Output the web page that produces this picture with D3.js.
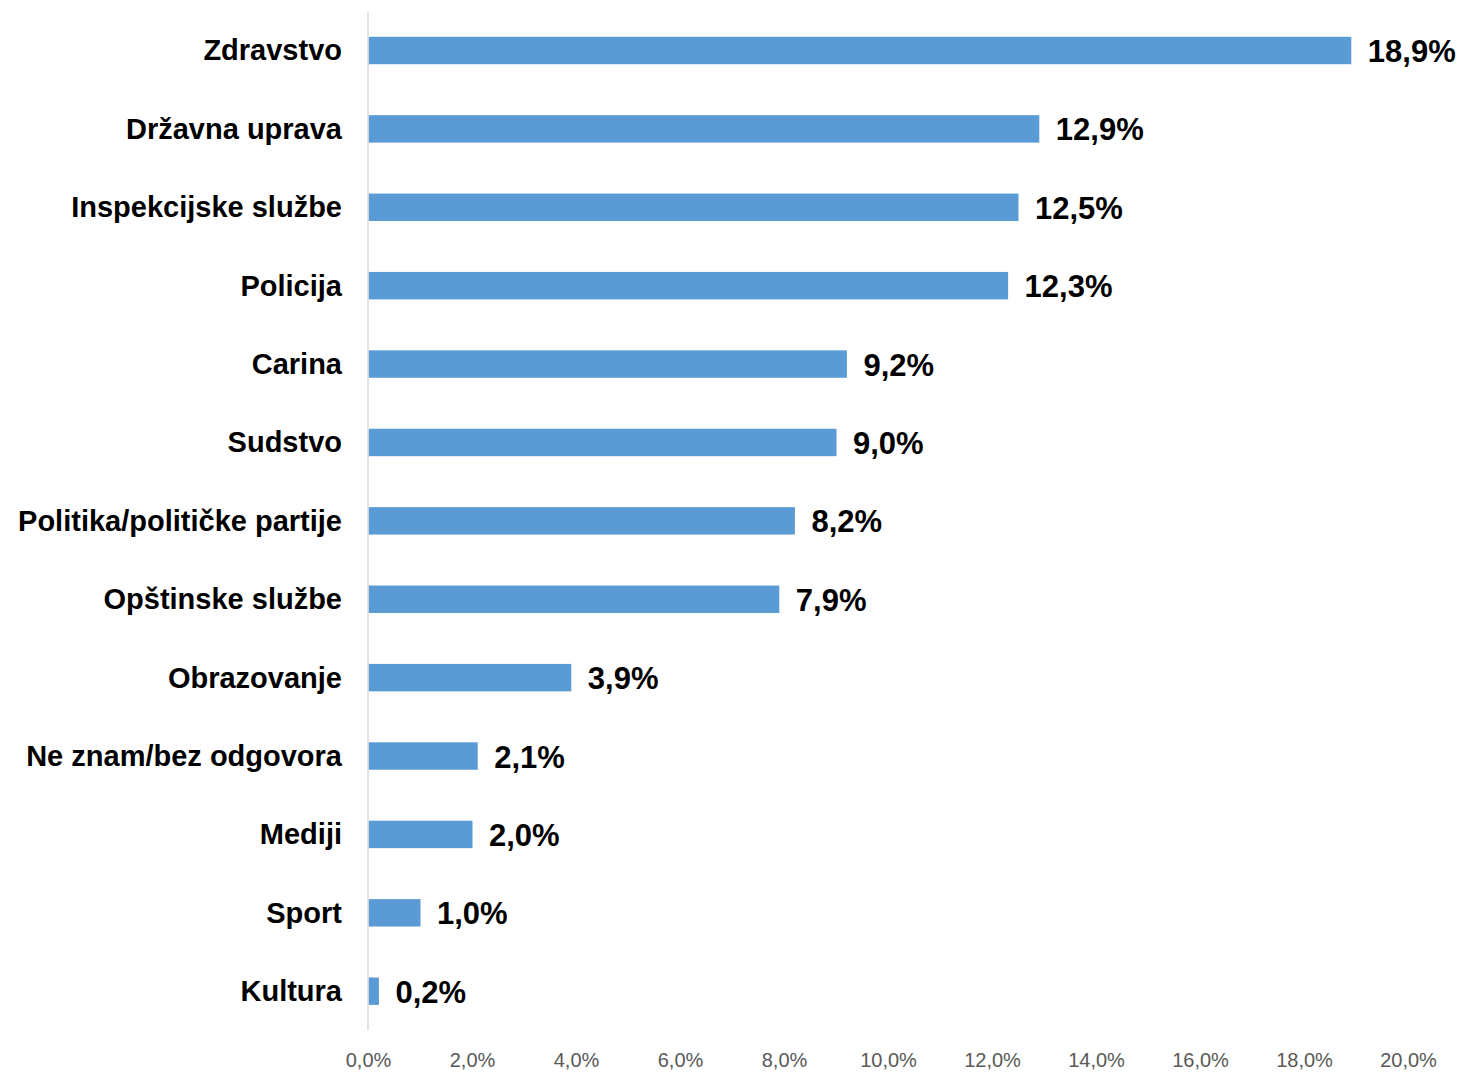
<!DOCTYPE html>
<html>
<head>
<meta charset="utf-8">
<script src="https://cdn.jsdelivr.net/npm/d3@7"></script>
<style>
  html, body { margin: 0; padding: 0; background: #fff; }
  svg { display: block; }
</style>
</head>
<body>
<svg id="chart" width="1463" height="1074"></svg>
<script>
const categories = ["Zdravstvo", "Državna uprava", "Inspekcijske službe", "Policija", "Carina", "Sudstvo",
  "Politika/političke partije", "Opštinske službe", "Obrazovanje", "Ne znam/bez odgovora", "Mediji", "Sport", "Kultura"];
const values = [18.9, 12.9, 12.5, 12.3, 9.2, 9.0, 8.2, 7.9, 3.9, 2.1, 2.0, 1.0, 0.2];
const tickValues = [0, 2, 4, 6, 8, 10, 12, 14, 16, 18, 20];

const locale = d3.formatLocale({ decimal: ",", thousands: ".", grouping: [3], currency: ["", ""] });
const fmt = v => locale.format(".1f")(v) + "%";

const svg = d3.select("#chart");
const x = d3.scaleLinear().domain([0, 20]).range([368, 1408]);
const y = d3.scaleBand().domain(categories).range([11.3, 1030.4]).paddingInner(0.65).paddingOuter(0.325);

// bars
svg.append("g").selectAll("rect").data(categories).join("rect")
  .attr("x", x(0) + 0.5)
  .attr("y", d => y(d))
  .attr("width", (d, i) => x(values[i]) - x(0))
  .attr("height", y.bandwidth())
  .attr("fill", "#5B9BD5");

// vertical axis line
svg.append("line")
  .attr("x1", x(0)).attr("x2", x(0))
  .attr("y1", 11.3).attr("y2", 1030.4)
  .attr("stroke", "#D9D9D9").attr("stroke-width", 1.5);

// category labels
svg.append("g").selectAll("text").data(categories).join("text")
  .attr("x", 342)
  .attr("y", d => y(d) + y.bandwidth() / 2 + 10)
  .attr("text-anchor", "end")
  .attr("font-family", "'Liberation Sans', Arial, sans-serif")
  .attr("font-weight", "bold")
  .attr("font-size", 29)
  .attr("fill", "#000")
  .text(d => d);

// value labels
svg.append("g").selectAll("text").data(categories).join("text")
  .attr("x", (d, i) => x(values[i]) + 17)
  .attr("y", d => y(d) + y.bandwidth() / 2 + 11.5)
  .attr("font-family", "'Liberation Sans', Arial, sans-serif")
  .attr("font-weight", "bold")
  .attr("font-size", 31)
  .attr("fill", "#000")
  .text((d, i) => fmt(values[i]));

// x axis (labels only)
const xAxis = d3.axisBottom(x).tickValues(tickValues).tickSize(0).tickPadding(0)
  .tickFormat(v => locale.format(".1f")(v) + "%");
const gx = svg.append("g").attr("transform", "translate(0,1053)").call(xAxis);
gx.select(".domain").remove();
gx.selectAll("text")
  .attr("font-family", "'Liberation Sans', Arial, sans-serif")
  .attr("font-size", 20)
  .attr("fill", "#595959")
  .attr("dy", "0.71em");
</script>
</body>
</html>
